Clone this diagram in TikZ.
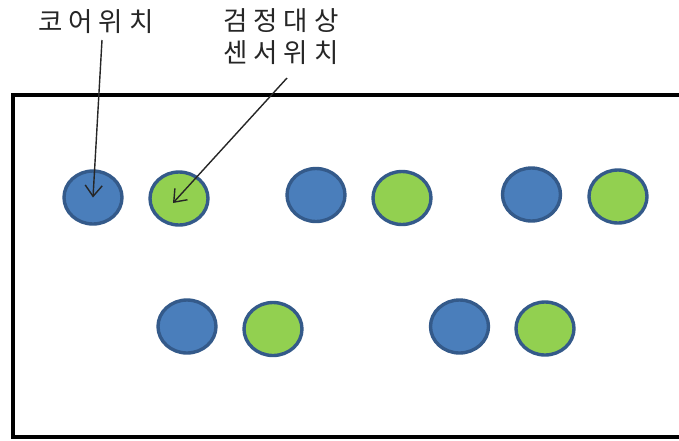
\documentclass[tikz,border=0pt]{standalone}
\usepackage{fontspec}
\newfontfamily\krfont[LetterSpace=22]{Noto Sans CJK KR}
\usetikzlibrary{arrows.meta,shapes.geometric}
\definecolor{coreblue}{HTML}{4A7EBB}
\definecolor{sensorgreen}{HTML}{92D050}
\definecolor{rimblue}{HTML}{345A8A}
\tikzset{
  dot/.style={ellipse, draw=rimblue, line width=3.4pt, minimum width=58pt, minimum height=53pt, inner sep=0pt},
  core/.style={dot, fill=coreblue},
  sensor/.style={dot, fill=sensorgreen},
  lbl/.style={font=\krfont\fontsize{26.5}{32}\selectfont, inner sep=0pt, align=center, text=black!85},
  pointer/.style={-{Straight Barb[length=11pt,width=17pt]}, line width=1.4pt, black!85},
  frame/.style={line width=3.4pt, black}
}
\begin{document}
\begin{tikzpicture}[x=1pt,y=-1pt]
\useasboundingbox (0,0) rectangle (679,440);
\fill[white] (0,0) rectangle (679,440);
\draw[frame] (682,95) -- (13,95) -- (13,437) -- (682,437);
% row 1
\node[core]   (c1) at (93,197.5) {};
\node[sensor] (s1) at (179,198.5) {};
\node[core]   (c2) at (316,195) {};
\node[sensor] (s2) at (402,198) {};
\node[core]   (c3) at (531.5,194.5) {};
\node[sensor] (s3) at (618,196.5) {};
% row 2
\node[core]   (c4) at (187,326.5) {};
\node[sensor] (s4) at (273,329) {};
\node[core]   (c5) at (459.5,326.5) {};
\node[sensor] (s5) at (545,328.5) {};
% labels
\node[lbl] (t1) at (96,22) {코어위치};
\node[lbl] (t2) at (281,37) {검정대상\\센서위치};
\coordinate (a1) at (102,40);
\coordinate (a2) at (287,78);
\coordinate (e2) at (173,203);
\draw[pointer] (a1) -- (c1.center);
\draw[pointer] (a2) -- (e2);
\end{tikzpicture}
\end{document}
